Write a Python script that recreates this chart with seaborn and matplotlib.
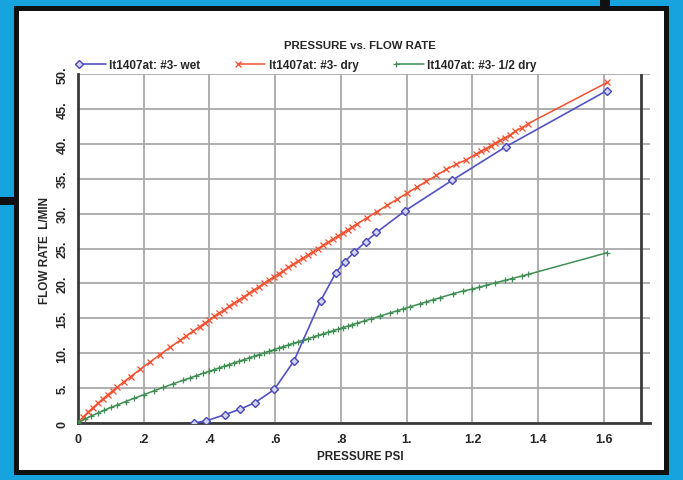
import numpy as np
import pandas as pd
import seaborn as sns
import matplotlib.pyplot as plt
from matplotlib.patches import Rectangle

# values
wet_x = [0.353, 0.390, 0.447, 0.494, 0.538, 0.597, 0.657, 0.738, 0.784, 0.811,
         0.841, 0.876, 0.908, 0.995, 1.139, 1.302, 1.608]
wet_y = [0.0, 0.3, 1.2, 2.0, 2.9, 4.8, 8.9, 17.5, 21.5, 23.1,
         24.5, 26.0, 27.3, 30.4, 34.8, 39.6, 47.6]

dry_x = [0, 0.015, 0.03, 0.045, 0.06, 0.075, 0.09, 0.105, 0.12, 0.14,
         0.16, 0.19, 0.22, 0.25, 0.28, 0.31, 0.33, 0.35, 0.37, 0.385,
         0.40, 0.415, 0.43, 0.445, 0.46, 0.475, 0.49, 0.505, 0.52, 0.535,
         0.55, 0.565, 0.58, 0.595, 0.61, 0.625, 0.64, 0.655, 0.67, 0.685,
         0.70, 0.715, 0.73, 0.745, 0.76, 0.775, 0.79, 0.805, 0.82, 0.835,
         0.85, 0.88, 0.91, 0.94, 0.97, 1.0, 1.03, 1.06, 1.09, 1.12,
         1.15, 1.18, 1.21, 1.225, 1.24, 1.255, 1.27, 1.285, 1.30, 1.315,
         1.33, 1.35, 1.37, 1.61]
dry_y = [0, 0.84, 1.54, 2.19, 2.82, 3.43, 4.02, 4.60, 5.17, 5.92,
         6.64, 7.72, 8.77, 9.81, 10.83, 11.84, 12.50, 13.16, 13.81, 14.30,
         14.78, 15.27, 15.75, 16.23, 16.70, 17.18, 17.65, 18.12, 18.59, 19.06,
         19.52, 19.99, 20.45, 20.91, 21.37, 21.83, 22.29, 22.74, 23.19, 23.65,
         24.10, 24.55, 25.00, 25.45, 25.89, 26.34, 26.78, 27.22, 27.67, 28.11,
         28.55, 29.43, 30.30, 31.17, 32.03, 32.90, 33.76, 34.62, 35.47, 36.32,
         37.05, 37.7, 38.5, 38.9, 39.3, 39.7, 40.1, 40.5, 40.9, 41.3,
         41.8, 42.3, 42.9, 48.8]

half_x = [0, 0.02, 0.04, 0.06, 0.08, 0.10, 0.12, 0.145, 0.17, 0.20,
          0.23, 0.26, 0.29, 0.32, 0.34, 0.36, 0.38, 0.40, 0.415, 0.43,
          0.445, 0.46, 0.475, 0.49, 0.505, 0.52, 0.535, 0.55, 0.565, 0.58,
          0.595, 0.61, 0.625, 0.64, 0.655, 0.67, 0.685, 0.70, 0.715, 0.73,
          0.745, 0.76, 0.775, 0.79, 0.805, 0.82, 0.835, 0.85, 0.87, 0.89,
          0.92, 0.95, 0.97, 0.99, 1.01, 1.04, 1.06, 1.08, 1.10, 1.14,
          1.17, 1.20, 1.22, 1.24, 1.27, 1.30, 1.32, 1.35, 1.37, 1.61]
half_y = [0, 0.55, 1.00, 1.42, 1.83, 2.23, 2.59, 3.08, 3.53, 4.05,
          4.59, 5.11, 5.62, 6.13, 6.45, 6.78, 7.11, 7.41, 7.66, 7.90,
          8.14, 8.38, 8.61, 8.85, 9.09, 9.32, 9.56, 9.79, 10.02, 10.26,
          10.49, 10.72, 10.95, 11.18, 11.40, 11.63, 11.86, 12.08, 12.31, 12.54,
          12.76, 12.99, 13.21, 13.43, 13.65, 13.87, 14.10, 14.32, 14.61, 14.90,
          15.34, 15.78, 16.07, 16.36, 16.64, 17.07, 17.36, 17.65, 17.93, 18.50,
          18.9, 19.2, 19.45, 19.7, 20.1, 20.45, 20.7, 21.05, 21.3, 24.4]

x_ticks = [0, 0.2, 0.4, 0.6, 0.8, 1.0, 1.2, 1.4, 1.6]
x_labels = ["0", ".2", ".4", ".6", ".8", "1.", "1.2", "1.4", "1.6"]
y_ticks = [0, 5, 10, 15, 20, 25, 30, 35, 40, 45, 50]
y_labels = ["0", "5.", "10.", "15.", "20.", "25.", "30.", "35.", "40.", "45.", "50."]

W, H = 683, 481
sns.set_style("white")
plt.rcParams['font.family'] = ['Liberation Sans', 'DejaVu Sans']

fig = plt.figure(figsize=(W / 100, H / 100), dpi=100, facecolor='#17a3dd')


def frac(x0, y0, x1, y1):
    return (x0 / W, 1 - y1 / H), (x1 - x0) / W, (y1 - y0) / H


# black frame + white panel (photo of a screen)
for (x0, y0, x1, y1), c in [((14, 7, 669, 476), '#111111'),
                            ((0, 198, 20, 206), '#111111'),
                            ((600, 0, 610, 10), '#111111'),
                            ((19, 12, 664, 471), 'white')]:
    xy, w, h = frac(x0, y0, x1, y1)
    fig.patches.append(Rectangle(xy, w, h, transform=fig.transFigure,
                                 facecolor=c, edgecolor='none', zorder=-5))

ax = fig.add_axes([78 / W, 1 - 424 / H, 572 / W, 349 / H])
ax.set_zorder(2)
ax.set_facecolor('white')

grid_c = '#a9a9a9'
spine_c = '#3a3a3a'

sns.lineplot(x=wet_x, y=wet_y, ax=ax, estimator=None, sort=False,
             color='#5252c4', lw=1.2, marker='D', markersize=4.5,
             markerfacecolor='#d4d4f4', markeredgecolor='#4646b6', markeredgewidth=1,
             label='lt1407at: #3- wet', zorder=4)
sns.lineplot(x=dry_x, y=dry_y, ax=ax, estimator=None, sort=False,
             color='#f2502f', lw=1.1, marker='x', markersize=4,
             markeredgecolor='#f2502f', markeredgewidth=0.9,
             label='lt1407at: #3- dry', zorder=3)
sns.lineplot(x=half_x, y=half_y, ax=ax, estimator=None, sort=False,
             color='#3f8f55', lw=1.1, marker='+', markersize=4.5,
             markeredgecolor='#3f8f55', markeredgewidth=0.9,
             label='lt1407at: #3- 1/2 dry', zorder=3)

ax.set_xlim(0, 1.74)
ax.set_ylim(0, 50)
ax.set_xticks(x_ticks)
ax.set_xticklabels(x_labels, fontsize=9, fontweight='bold')
ax.set_yticks(y_ticks)
ax.set_yticklabels(y_labels, fontsize=9, fontweight='bold', rotation=90, va='center')
ax.tick_params(direction='out', length=4, width=1.3, color=grid_c, pad=3)
ax.grid(True, color=grid_c, lw=1.3)
ax.set_axisbelow(True)
for s in ['top', 'right']:
    ax.spines[s].set_visible(False)
for s in ['left', 'bottom']:
    ax.spines[s].set_color(spine_c)
    ax.spines[s].set_linewidth(2)
ax.axvline(1.712, color=spine_c, lw=2, zorder=2)
ax.set_xlabel('')
ax.set_ylabel('')

leg = ax.legend(loc='lower left', bbox_to_anchor=(75 / W, 1 - 72 / H),
                bbox_transform=fig.transFigure, ncol=3, frameon=False,
                numpoints=2, handlelength=2.9, handletextpad=0.0,
                columnspacing=2.9, borderaxespad=0, borderpad=0,
                prop={'size': 8.5, 'weight': 'bold'})
for line in leg.get_lines():
    line.set_markevery([0])

fig.text(360 / W, 1 - 46 / H, 'PRESSURE vs. FLOW RATE', ha='center', va='center',
         fontsize=8.2, fontweight='bold')
fig.text(360 / W, 1 - 457 / H, 'PRESSURE PSI', ha='center', va='center',
         fontsize=8.5, fontweight='bold')
fig.text(45 / W, 1 - 250 / H, 'FLOW RATE  L/MIN', ha='center', va='center',
         rotation=90, fontsize=8.5, fontweight='bold')

fig.savefig('out.png', dpi=100, facecolor=fig.get_facecolor())
